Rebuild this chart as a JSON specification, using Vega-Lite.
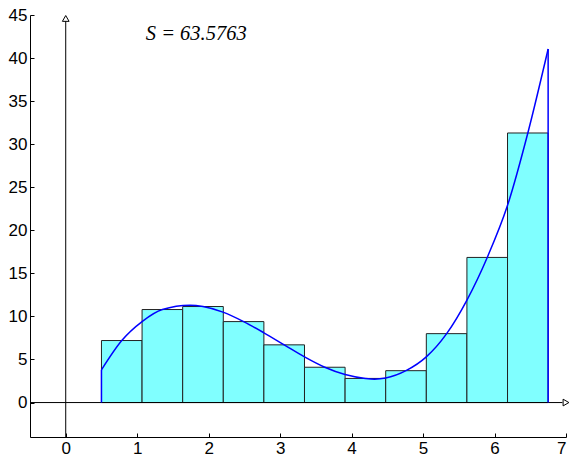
{
  "$schema": "https://vega.github.io/schema/vega-lite/v6.json",
  "width": 536,
  "height": 422,
  "autosize": {"type": "none"},
  "padding": {"left": 30, "top": 15, "right": 4, "bottom": 22},
  "background": "white",
  "config": {
    "view": {"stroke": null},
    "axis": {
      "grid": false,
      "domainColor": "black",
      "domainWidth": 1,
      "tickColor": "black",
      "tickSize": -4,
      "labelFont": "Liberation Sans",
      "labelFontSize": 17,
      "labelColor": "black",
      "title": null
    }
  },
  "datasets": {
    "bars": [
      {"x0": 0.5, "x1": 1.0682, "b": 0, "h": 7.2},
      {"x0": 1.0682, "x1": 1.6364, "b": 0, "h": 10.8},
      {"x0": 1.6364, "x1": 2.2045, "b": 0, "h": 11.15},
      {"x0": 2.2045, "x1": 2.7727, "b": 0, "h": 9.4},
      {"x0": 2.7727, "x1": 3.3409, "b": 0, "h": 6.7},
      {"x0": 3.3409, "x1": 3.9091, "b": 0, "h": 4.1},
      {"x0": 3.9091, "x1": 4.4773, "b": 0, "h": 2.8},
      {"x0": 4.4773, "x1": 5.0455, "b": 0, "h": 3.7},
      {"x0": 5.0455, "x1": 5.6136, "b": 0, "h": 8.0},
      {"x0": 5.6136, "x1": 6.1818, "b": 0, "h": 16.85},
      {"x0": 6.1818, "x1": 6.75, "b": 0, "h": 31.3}
    ],
    "curve": [
      {"x": 0.5, "y": 3.8},
      {"x": 0.784, "y": 7.2},
      {"x": 1.068, "y": 9.4},
      {"x": 1.352, "y": 10.8},
      {"x": 1.74, "y": 11.3},
      {"x": 1.92, "y": 11.15},
      {"x": 2.2, "y": 10.5},
      {"x": 2.489, "y": 9.4},
      {"x": 2.773, "y": 8.1},
      {"x": 3.057, "y": 6.7},
      {"x": 3.341, "y": 5.3},
      {"x": 3.625, "y": 4.1},
      {"x": 3.909, "y": 3.25},
      {"x": 4.193, "y": 2.8},
      {"x": 4.32, "y": 2.72},
      {"x": 4.477, "y": 2.85},
      {"x": 4.761, "y": 3.7},
      {"x": 5.045, "y": 5.3},
      {"x": 5.33, "y": 8.0},
      {"x": 5.614, "y": 11.9},
      {"x": 5.898, "y": 16.85},
      {"x": 6.182, "y": 22.9},
      {"x": 6.466, "y": 31.3},
      {"x": 6.75, "y": 41.05}
    ],
    "ends": [
      {"x": 0.5, "b": 0, "y": 3.8},
      {"x": 6.75, "b": 0, "y": 41.05}
    ],
    "vaxis": [{"x": 0, "y0": -4, "y1": 44.6}],
    "haxis": [{"y": 0, "x0": -0.5, "x1": 6.95}],
    "arrows": [
      {"x": 0, "y": 44.6, "s": "triangle-up"},
      {"x": 7.0, "y": 0, "s": "triangle-right"}
    ],
    "note": [{"x": 1.12, "y": 42.8, "label": "S = 63.5763"}]
  },
  "layer": [
    {
      "data": {"name": "bars"},
      "mark": {"type": "rect", "fill": "#80FFFF", "stroke": "#222222", "strokeWidth": 1},
      "encoding": {
        "x": {"field": "x0", "type": "quantitative",
              "scale": {"domain": [-0.5, 7], "nice": false, "zero": false},
              "axis": {"values": [0, 1, 2, 3, 4, 5, 6, 7], "format": "d", "orient": "bottom", "labelPadding": 7}},
        "x2": {"field": "x1"},
        "y": {"field": "b", "type": "quantitative",
              "scale": {"domain": [-4, 45], "nice": false, "zero": false},
              "axis": {"values": [0, 5, 10, 15, 20, 25, 30, 35, 40, 45], "format": "d", "orient": "left", "labelPadding": 7}},
        "y2": {"field": "h"}
      }
    },
    {
      "data": {"name": "vaxis"},
      "mark": {"type": "rule", "color": "black", "strokeWidth": 1},
      "encoding": {
        "x": {"field": "x", "type": "quantitative"},
        "y": {"field": "y0", "type": "quantitative"},
        "y2": {"field": "y1"}
      }
    },
    {
      "data": {"name": "haxis"},
      "mark": {"type": "rule", "color": "black", "strokeWidth": 1},
      "encoding": {
        "y": {"field": "y", "type": "quantitative"},
        "x": {"field": "x0", "type": "quantitative"},
        "x2": {"field": "x1"}
      }
    },
    {
      "data": {"name": "arrows"},
      "mark": {"type": "point", "size": 45, "filled": true, "fill": "white", "stroke": "black", "strokeWidth": 1, "opacity": 1, "clip": false},
      "encoding": {
        "x": {"field": "x", "type": "quantitative"},
        "y": {"field": "y", "type": "quantitative"},
        "shape": {"field": "s", "type": "nominal", "scale": null, "legend": null}
      }
    },
    {
      "data": {"name": "curve"},
      "mark": {"type": "line", "color": "#0000FF", "strokeWidth": 1.5, "interpolate": "monotone"},
      "encoding": {
        "x": {"field": "x", "type": "quantitative"},
        "y": {"field": "y", "type": "quantitative"}
      }
    },
    {
      "data": {"name": "ends"},
      "mark": {"type": "rule", "color": "#0000FF", "strokeWidth": 1.5},
      "encoding": {
        "x": {"field": "x", "type": "quantitative"},
        "y": {"field": "b", "type": "quantitative"},
        "y2": {"field": "y"}
      }
    },
    {
      "data": {"name": "note"},
      "mark": {"type": "text", "font": "Liberation Serif", "fontStyle": "italic", "fontSize": 20.5, "align": "left", "baseline": "middle", "color": "black"},
      "encoding": {
        "x": {"field": "x", "type": "quantitative"},
        "y": {"field": "y", "type": "quantitative"},
        "text": {"field": "label"}
      }
    }
  ]
}
